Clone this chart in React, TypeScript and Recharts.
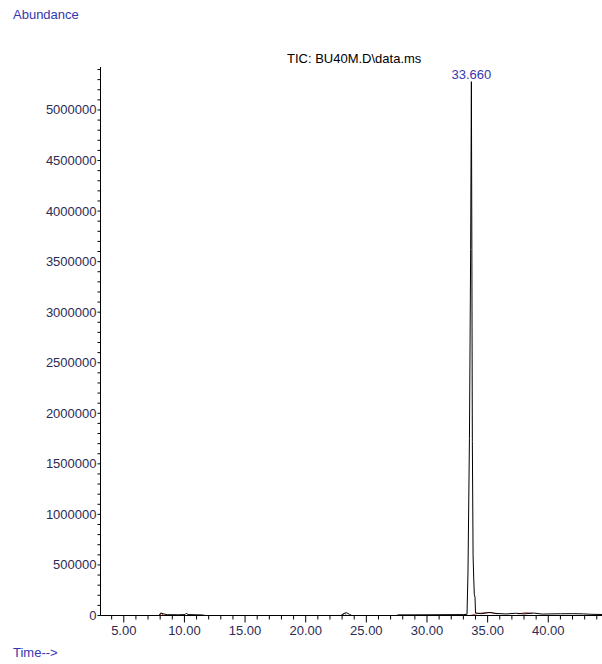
import { Line, LineChart, XAxis, YAxis } from "recharts";

type Pt = { t: number; v: number | null };

// total ion current trace (time in min, abundance)
const ticTimes = [
    3.08, 7.9, 8.05, 8.3, 8.6, 9.5, 10.05, 10.15, 10.3, 11.0, 11.5, 11.7,
    22.9, 23.15, 23.35, 23.6, 23.8, 27.5, 27.6, 30.0, 33.0, 33.3,
    33.38, 33.5, 33.6, 33.66, 33.7, 33.74, 33.8, 33.85, 33.9, 33.96, 34.0,
    34.5, 35.2, 35.5, 36.5, 37.3, 38.0, 38.8, 39.5, 40.3, 41.0, 42.0, 42.9, 43.5, 44.43,
];
const ticValues = [
    0, 0, 25000, 15000, 8000, 7000, 9000, 22000, 9000, 7000, 5000, 0,
    0, 20000, 28000, 12000, 0, 0, 6000, 7000, 9000, 12000,
    420000, 1750000, 3620000, 5280000, 3620000, 1720000, 600000, 380000, 210000, 180000, 25000,
    18000, 30000, 22000, 15000, 22000, 16000, 24000, 14000, 16000, 17000, 18000, 16000, 12000, 10000,
];

// integration baseline segments (null splits them)
const baseTimes = [7.95, 8.1, 8.25, 8.3, 23.0, 23.2, 23.35, 23.4, 33.55, 34.2, 34.9, 35.4, 35.8, 36.0, 37.5, 38.1, 38.7];
const baseValues = [0, 18000, 5000, null, 0, 20000, 5000, null, 0, 20000, 30000, 28000, 15000, null, 15000, 28000, 22000];

const yLabels = [0, 500000, 1000000, 1500000, 2000000, 2500000, 3000000, 3500000, 4000000, 4500000, 5000000];
const xLabels = [5, 10, 15, 20, 25, 30, 35, 40];

const peakTime = 33.66;

const ticData: Pt[] = ticTimes.map((t, i) => ({ t, v: ticValues[i] }));
const baseData: Pt[] = baseTimes.map((t, i) => ({ t, v: baseValues[i] }));

const yTicks = Array.from({ length: 55 }, (_, i) => i * 100000);
const xTicks = Array.from({ length: 41 }, (_, i) => i + 4);

const FONT = "'Liberation Sans', Arial, sans-serif";
const TICK_COLOR = "#2b2b55";
const BLUE = "#3636b0";

const TimeTick = (props: any) => {
    const { x, y, payload } = props;
    const v = payload.value as number;
    const major = xLabels.includes(v);
    return (
        <g>
            <line x1={x} x2={x} y1={y} y2={y + (major ? 7 : 4)} stroke="#000" />
            {major && (
                <text x={x} y={y + 19} textAnchor="middle" fontSize={13} fontFamily={FONT} fill={TICK_COLOR}>
                    {v.toFixed(2)}
                </text>
            )}
        </g>
    );
};

const AbundanceTick = (props: any) => {
    const { x, y, payload } = props;
    const v = payload.value as number;
    return (
        <g>
            <line x1={x - 3} x2={x} y1={y} y2={y} stroke="#000" />
            {yLabels.includes(v) && (
                <text x={x - 4} y={y + 4.5} textAnchor="end" fontSize={13} fontFamily={FONT} fill={TICK_COLOR}>
                    {v}
                </text>
            )}
        </g>
    );
};

const PeakLabel = (props: any) => {
    const { x, y, index } = props;
    if (ticData[index]?.t !== peakTime) return null;
    return (
        <text x={x} y={y - 3} textAnchor="middle" fontSize={13} fontFamily={FONT} fill={BLUE}>
            {peakTime.toFixed(3)}
        </text>
    );
};

const textStyle = { position: "absolute" as const, fontFamily: FONT, fontSize: 13, lineHeight: "13px", whiteSpace: "nowrap" as const };

export default function App() {
    return (
        <div style={{ position: "absolute", left: 0, top: 0, width: 602, height: 664, background: "#fff" }}>
            <LineChart width={602} height={664} margin={{ top: 67, right: 0, bottom: 18.5, left: 40.5 }}>
                <XAxis
                    dataKey="t"
                    type="number"
                    domain={[3.08, 44.43]}
                    allowDataOverflow
                    ticks={xTicks}
                    interval={0}
                    height={30}
                    tickSize={0}
                    tickMargin={0}
                    tickLine={false}
                    axisLine={{ stroke: "#000" }}
                    tick={<TimeTick />}
                />
                <YAxis
                    type="number"
                    domain={[0, 5425000]}
                    allowDataOverflow
                    ticks={yTicks}
                    interval={0}
                    width={60}
                    tickSize={0}
                    tickMargin={0}
                    tickLine={false}
                    axisLine={{ stroke: "#000" }}
                    tick={<AbundanceTick />}
                />
                <Line
                    data={baseData}
                    dataKey="v"
                    type="linear"
                    stroke="#c05050"
                    strokeWidth={1}
                    dot={false}
                    connectNulls={false}
                    isAnimationActive={false}
                />
                <Line
                    data={ticData}
                    dataKey="v"
                    type="linear"
                    stroke="#000"
                    strokeWidth={1}
                    dot={false}
                    label={<PeakLabel />}
                    isAnimationActive={false}
                />
            </LineChart>
            <div style={{ ...textStyle, left: 13, top: 8, color: BLUE }}>Abundance</div>
            <div style={{ ...textStyle, left: 287, top: 52, color: "#000" }}>TIC: BU40M.D\data.ms</div>
            <div style={{ ...textStyle, left: 13, top: 646, color: BLUE }}>Time--&gt;</div>
        </div>
    );
}
